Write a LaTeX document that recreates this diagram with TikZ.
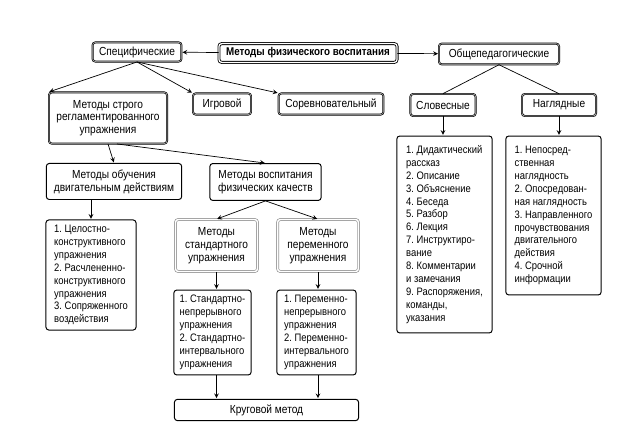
\documentclass[tikz,border=0pt]{standalone}
\usepackage{fontspec}
\setmainfont{Liberation Sans}[FakeStretch=0.87]
\usetikzlibrary{calc, positioning, shapes, arrows}
\frenchspacing
\tikzset{
  box/.style={draw, rounded corners=2pt, line width=0.9pt, align=center, inner sep=1pt,
    font=\fontsize{8.3}{9.1}\selectfont},
  headbox/.style={box, line width=0.5pt, double=gray!45, double distance=0.4pt},
  titlebox/.style={box, line width=0.6pt, double, double distance=0.9pt, font=\fontsize{8}{9.1}\selectfont\bfseries},
  graybox/.style={box, draw=gray!80, line width=0.5pt, double, double distance=1pt},
  listbox/.style={box, line width=0.7pt, align=left, inner ysep=3pt, font=\fontsize{7.7}{9.2}\selectfont},
  arr/.style={-stealth, line width=0.5pt, shorten >=0.5pt}
}
\begin{document}
\begin{tikzpicture}[x=0.025cm, y=-0.025cm]
\useasboundingbox (0,0) rectangle (643,444);
% top row
\node[titlebox, minimum width=4.45cm, minimum height=0.47cm] (title) at (308,53) {Методы физического воспитания};
\node[headbox, minimum width=2.22cm, minimum height=0.48cm] (spec) at (137,52) {Специфические};
\node[headbox, minimum width=3.0cm, minimum height=0.52cm] (gen) at (499,54) {Общепедагогические};
% second row
\node[headbox, minimum width=2.95cm, minimum height=1.28cm] (reg) at (108,118) {Методы строго\\регламентированного\\упражнения};
\node[headbox, minimum width=1.45cm, minimum height=0.53cm] (game) at (222,104) {Игровой};
\node[headbox, minimum width=2.62cm, minimum height=0.53cm] (comp) at (331,104) {Соревновательный};
\node[headbox, minimum width=1.63cm, minimum height=0.55cm] (verb) at (443,105) {Словесные};
\node[headbox, minimum width=1.85cm, minimum height=0.55cm] (vis) at (559,105) {Наглядные};
% third row
\node[box, line width=0.7pt, minimum width=3.38cm, minimum height=0.9cm] (teach) at (114,181.5) {Методы обучения\\двигательным действиям};
\node[box, line width=0.7pt, minimum width=2.78cm, minimum height=0.92cm] (phys) at (265.5,182) {Методы воспитания\\физических качеств};
\node[graybox, minimum width=2.05cm, minimum height=1.3cm] (std) at (216.5,245.5) {Методы\\стандартного\\упражнения};
\node[graybox, minimum width=2.02cm, minimum height=1.3cm] (var) at (318,245.5) {Методы\\переменного\\упражнения};
% lists
\node[listbox, minimum width=2.25cm, minimum height=2.75cm] (teachL) at (91,275) {1. Целостно-\\конструктивного\\упражнения\\2. Расчлененно-\\конструктивного\\упражнения\\3. Сопряженного\\воздействия};
\node[listbox, minimum width=1.93cm, minimum height=2.12cm] (stdL) at (212.5,332.5) {1. Стандартно-\\непрерывного\\упражнения\\2. Стандартно-\\интервального\\упражнения};
\node[listbox, minimum width=1.98cm, minimum height=2.12cm] (varL) at (316.5,332.5) {1. Переменно-\\непрерывного\\упражнения\\2. Переменно-\\интервального\\упражнения};
\node[listbox, minimum width=2.38cm, minimum height=4.92cm] (verbL) at (444.5,234.5) {1. Дидактический\\рассказ\\2. Описание\\3. Объяснение\\4. Беседа\\5. Разбор\\6. Лекция\\7. Инструктиро-\\вание\\8. Комментарии\\и замечания\\9. Распоряжения,\\команды,\\указания};
\node[listbox, minimum width=2.38cm, minimum height=3.97cm] (visL) at (553.5,215.5) {1. Непосред-\\ственная\\наглядность\\2. Опосредован-\\ная наглядность\\3. Направленного\\прочувствования\\двигательного\\действия\\4. Срочной\\информации};
\node[box, line width=0.7pt, minimum width=4.6cm, minimum height=0.53cm] (circ) at (266.5,410) {Круговой метод};
% connectors
\draw[arr] (title) -- (spec);
\draw[arr] (title) -- (gen);
\draw[arr] (spec.south) -- (reg.north west);
\draw[arr] (spec.south) -- (game.north west);
\draw[arr] (spec.south) -- (comp.north west);
\draw[line width=0.5pt] (gen.south) -- (verb.north);
\draw[line width=0.5pt] (gen.south) -- (vis.north);
\draw[arr] (verb.south) -- (verb.south |- verbL.north);
\draw[arr] (vis.south) -- (vis.south |- visL.north);
\draw[arr] (reg.south) -- (teach.north);
\draw[arr] ($(reg.south)+(9,0)$) -- (phys.north);
\draw[arr] (teachL.north |- teach.south) -- (teachL.north);
\draw[arr] (phys.south) -- (std.north);
\draw[arr] (phys.south) -- (var.north);
\draw[arr] (std.south) -- (std.south |- stdL.north);
\draw[arr] (var.south) -- (var.south |- varL.north);
\draw[arr] (std.south |- stdL.south) -- (std.south |- circ.north);
\draw[arr] (var.south |- varL.south) -- (var.south |- circ.north);
\end{tikzpicture}
\end{document}
